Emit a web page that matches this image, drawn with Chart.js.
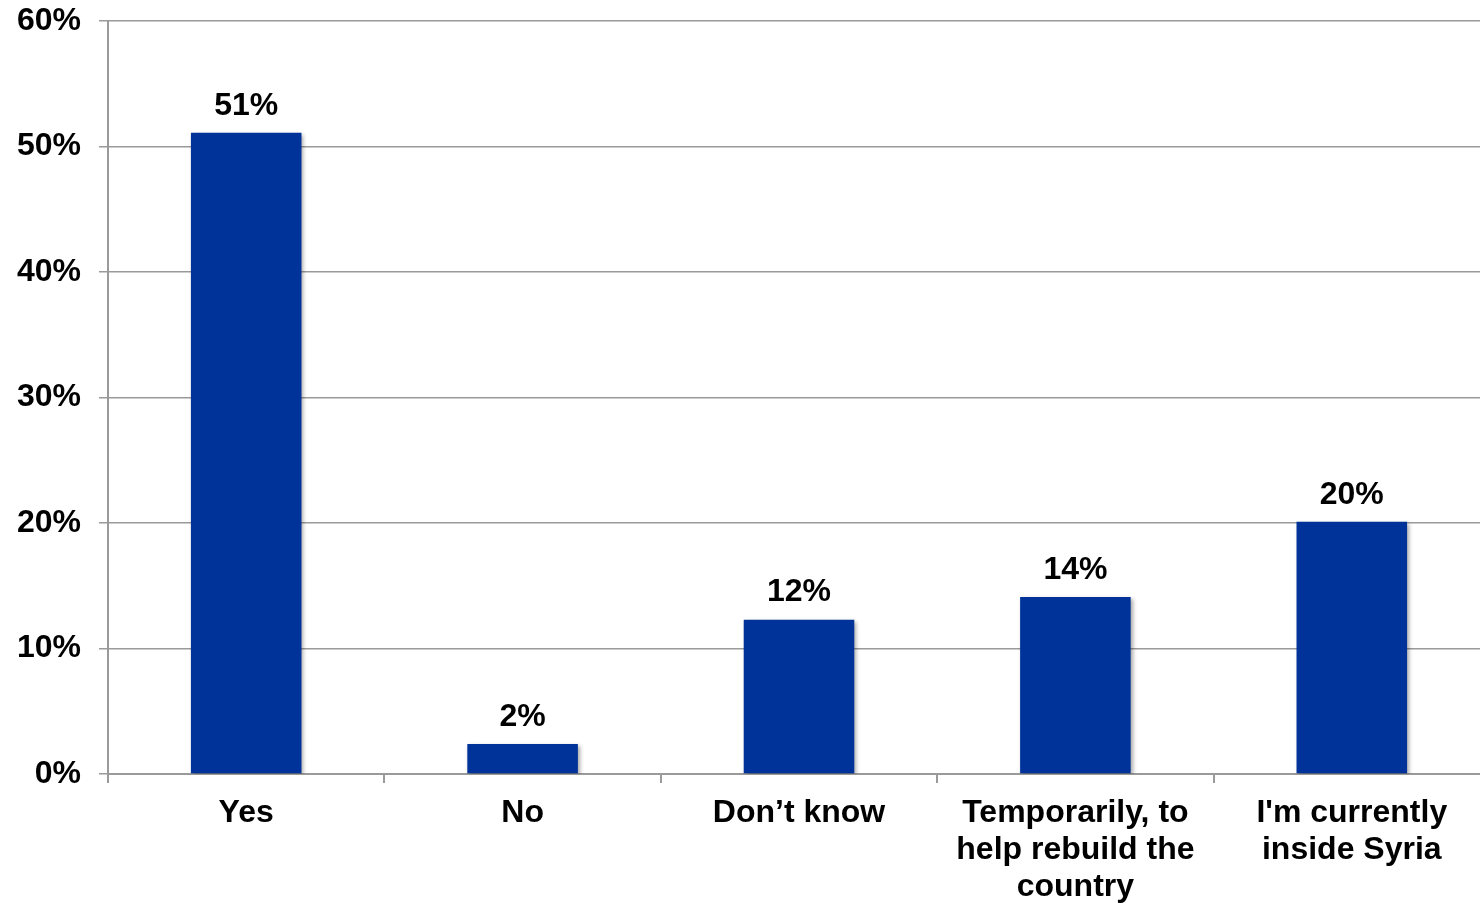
<!DOCTYPE html>
<html>
<head>
<meta charset="utf-8">
<script src="https://cdn.jsdelivr.net/npm/chart.js@4.4.1/dist/chart.umd.min.js"></script>
<style>
  html, body { margin: 0; padding: 0; background: #fff; overflow: hidden; }
  #wrap { width: 1490px; height: 903px; }
</style>
</head>
<body>
<div id="wrap"><canvas id="myChart"></canvas></div>
<script>
// answers and shares (%)
var categories = [
  'Yes',
  'No',
  'Don\u2019t know',
  ['Temporarily, to', 'help rebuild the', 'country'],
  ['I\'m currently', 'inside Syria']
];
var shares = [51.1, 2.4, 12.3, 14.1, 20.1];
var yTicks = [0, 10, 20, 30, 40, 50, 60];

var FONT = '"Liberation Sans", Arial, sans-serif';
var GRID = '#9a9a9a';

// value labels above each bar
var valueLabels = {
  id: 'valueLabels',
  afterDatasetsDraw: function(chart) {
    var ctx = chart.ctx;
    var meta = chart.getDatasetMeta(0);
    ctx.save();
    ctx.font = 'bold 32px ' + FONT;
    ctx.fillStyle = '#000';
    ctx.textAlign = 'center';
    ctx.textBaseline = 'bottom';
    meta.data.forEach(function(bar, i) {
      ctx.fillText(Math.round(shares[i]) + '%', bar.x, bar.y - 11);
    });
    ctx.restore();
  }
};

// soft drop shadow under the bars
var barShadow = {
  id: 'barShadow',
  beforeDatasetDraw: function(chart) {
    var ctx = chart.ctx;
    ctx.save();
    ctx.shadowColor = 'rgba(0,0,0,0.35)';
    ctx.shadowBlur = 4;
    ctx.shadowOffsetX = 2;
    ctx.shadowOffsetY = 2;
  },
  afterDatasetDraw: function(chart) {
    chart.ctx.restore();
  }
};

var ctx = document.getElementById('myChart').getContext('2d');
new Chart(ctx, {
  type: 'bar',
  data: {
    labels: categories,
    datasets: [{
      data: shares,
      backgroundColor: '#003399',
      barPercentage: 0.4,
      categoryPercentage: 1.0
    }]
  },
  options: {
    responsive: true,
    maintainAspectRatio: false,
    animation: false,
    layout: { padding: { top: 21, right: 0, left: 0, bottom: 0 } },
    plugins: {
      legend: { display: false },
      tooltip: { enabled: false }
    },
    scales: {
      x: {
        offset: true,
        grid: {
          offset: true,
          drawOnChartArea: false,
          drawTicks: true,
          tickLength: 9,
          color: GRID,
          lineWidth: 2
        },
        border: { color: GRID, width: 2 },
        ticks: {
          color: '#000',
          font: { family: FONT, size: 32, weight: 'bold', lineHeight: 1.15 },
          padding: 12,
          maxRotation: 0,
          autoSkip: false
        },
        afterFit: function(scale) { scale.height = 129; }
      },
      y: {
        min: 0,
        max: 60,
        afterBuildTicks: function(scale) {
          scale.ticks = yTicks.map(function(v) { return { value: v }; });
        },
        grid: {
          color: GRID,
          lineWidth: 1.5,
          tickLength: 9
        },
        border: { color: GRID, width: 2 },
        ticks: {
          color: '#000',
          font: { family: FONT, size: 32, weight: 'bold' },
          padding: 18,
          callback: function(v) { return v + '%'; }
        },
        afterFit: function(scale) {
          scale.width = 108;
          // top label may sit against the canvas edge
          scale.paddingTop = 0;
          scale.paddingBottom = 0;
        }
      }
    }
  },
  plugins: [barShadow, valueLabels]
});
</script>
</body>
</html>
